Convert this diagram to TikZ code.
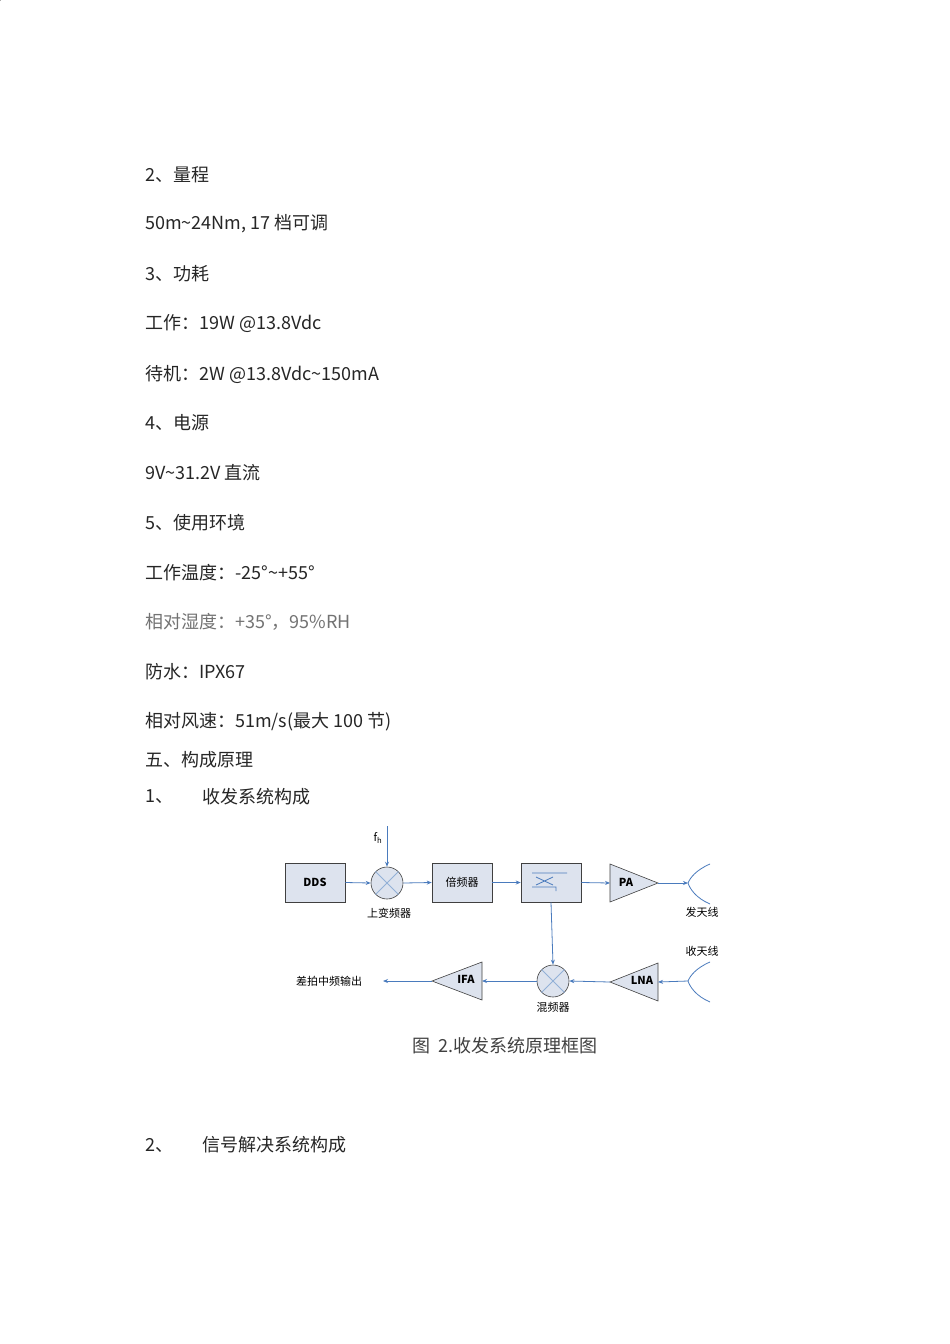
\documentclass[tikz,border=0pt]{standalone}
\usepackage{fontspec}
\setmainfont{Noto Sans CJK SC}
\newfontfamily\serifcjk{Noto Sans CJK SC}
\usetikzlibrary{arrows.meta}
\begin{document}
\begin{tikzpicture}[x=1pt,y=-1pt,
  line/.style={draw=lblue,line width=0.8pt},
  arr/.style={line,-{Stealth[length=5pt,width=4pt]}},
  blk/.style={draw=black!75,fill=bfill,line width=0.6pt,minimum width=60pt,minimum height=39pt,inner sep=0pt,font=\fontsize{11}{12}\selectfont},
  mix/.style={draw=black!75,fill=bfill,circle,minimum size=32pt,inner sep=0pt,line width=0.6pt},
  lab/.style={font=\fontsize{11}{12}\selectfont,inner sep=0pt},
  body/.style={anchor=west,font=\fontsize{18}{20}\selectfont,inner sep=0pt,text=black!85}]
\definecolor{lblue}{HTML}{4A7BBD}
\definecolor{bfill}{HTML}{DDE3EE}
\useasboundingbox[fill=white] (0,0) rectangle (950,1344);
% text lines
\node[body] (t1) at (145,175) {2、量程};
\node[body] (t2) at (145,224) {50m\textasciitilde24Nm, 17 档可调};
\node[body] (t3) at (145,274) {3、功耗};
\node[body] (t4) at (145,324) {工作：19W @13.8Vdc};
\node[body] (t5) at (145,374) {待机：2W @13.8Vdc\textasciitilde150mA};
\node[body] (t6) at (145,423) {4、电源};
\node[body] (t7) at (145,473) {9V\textasciitilde31.2V 直流};
\node[body] (t8) at (145,523) {5、使用环境};
\node[body] (t9) at (145,573) {工作温度：-25°\textasciitilde+55°};
\node[body,text=black!55] (t10) at (145,622) {相对湿度：+35°，95\%RH};
\node[body] (t11) at (145,672) {防水：IPX67};
\node[body] (t12) at (145,722) {相对风速：51m/s(最大 100 节)};
\node[body] (t13) at (145,760) {五、构成原理};
\node[body] (t14) at (145,797) {1、};
\node[body] (t15) at (202,797) {收发系统构成};
\node[body] (t16) at (145,1145) {2、};
\node[body] (t17) at (202,1145) {信号解决系统构成};
\node[font=\fontsize{18}{20}\selectfont,inner sep=0pt,text=black!75] (cap) at (505,1046) {图\ \ 2.收发系统原理框图};
% diagram
\node[blk] (dds) at (315,882.5) {\textbf{DDS}};
\node[mix] (m1) at (387,883) {};
\draw[lblue!60,line width=0.8pt] (m1.north west)--(m1.south east) (m1.north east)--(m1.south west);
\node[blk] (bp) at (462,882.5) {倍频器};
\node[blk] (cp) at (551,882.5) {};
\draw[lblue,line width=0.8pt] (532,873)--(567,873) (536,877)--(553,885) (536,885)--(553,877) (532,887)--(556,887)--(556,891);
\node[draw=black!75,fill=bfill,line width=0.6pt,minimum width=0pt,inner sep=0pt] at (0,0) {};
\draw[draw=black!75,fill=bfill,line width=0.6pt] (610,864)--(658,883)--(610,902)--cycle;
\coordinate (pain) at (610,883); \coordinate (paout) at (658,883);
\node[lab] (pa) at (626,882) {\textbf{PA}};
\draw[line] (710,864) .. controls (696,870) and (690,878) .. (688,883) .. controls (690,889) and (696,898) .. (710,904);
\coordinate (ant1) at (688,883);
\node[lab] (ft) at (702,912) {发天线};
\node[lab] (st) at (702,951) {收天线};
\draw[line] (710,962) .. controls (696,968) and (690,976) .. (688,981) .. controls (690,987) and (696,996) .. (710,1002);
\coordinate (ant2) at (688,981);
\draw[draw=black!75,fill=bfill,line width=0.6pt] (658,963)--(610,982)--(658,1001)--cycle;
\coordinate (lnain) at (658,982); \coordinate (lnaout) at (610,982);
\node[lab] (lna) at (642,980) {\textbf{LNA}};
\node[mix] (m2) at (553,981) {};
\draw[lblue!60,line width=0.8pt] (m2.north west)--(m2.south east) (m2.north east)--(m2.south west);
\draw[draw=black!75,fill=bfill,line width=0.6pt] (482,962)--(432,981)--(482,1000)--cycle;
\coordinate (ifain) at (482,981); \coordinate (ifaout) at (432,981);
\node[lab] (ifa) at (466,979) {\textbf{IFA}};
\coordinate (outp) at (383,981);
\node[lab] (outl) at (329,981) {差拍中频输出};
\node[lab] (up) at (389,913) {上变频器};
\node[lab] (hp) at (553,1007) {混频器};
\node[lab] (fh) at (378,838) {f\textsubscript{h}};
\coordinate (fhtop) at (387,826);
% connectors
\draw[arr] (fhtop)--(m1.north);
\draw[arr] (dds.east)--(m1.west);
\draw[arr] (m1.east)--(bp.west);
\draw[arr] (bp.east)--(cp.west);
\draw[arr] (cp.east)--(pain);
\draw[arr] (paout)--(ant1);
\draw[arr] (cp.south)--(m2.north);
\draw[arr] (ant2)--(lnain);
\draw[arr] (lnaout)--(m2.east);
\draw[arr] (m2.west)--(ifain);
\draw[arr] (ifaout)--(outp);
\end{tikzpicture}
\end{document}
